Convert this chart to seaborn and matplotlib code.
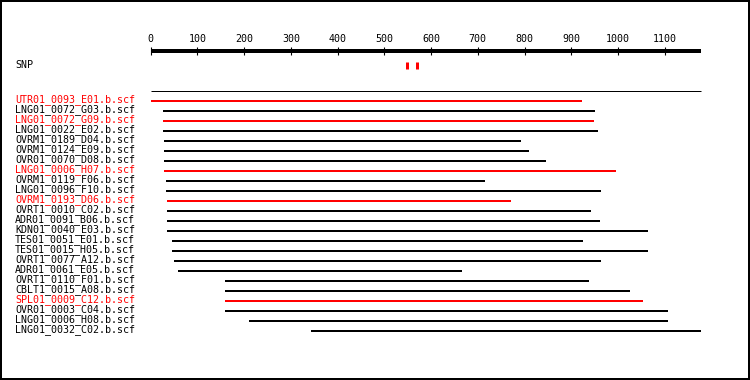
import matplotlib
matplotlib.use("Agg")
import matplotlib.pyplot as plt
import seaborn as sns
import pandas as pd
import numpy as np

# ---- data ----
reads = ["UTR01_0093_E01.b.scf", "LNG01_0072_G03.b.scf", "LNG01_0072_G09.b.scf",
         "LNG01_0022_E02.b.scf", "OVRM1_0189_D04.b.scf", "OVRM1_0124_E09.b.scf",
         "OVR01_0070_D08.b.scf", "LNG01_0006_H07.b.scf", "OVRM1_0119_F06.b.scf",
         "LNG01_0096_F10.b.scf", "OVRM1_0193_D06.b.scf", "OVRT1_0010_C02.b.scf",
         "ADR01_0091_B06.b.scf", "KDN01_0040_E03.b.scf", "TES01_0051_E01.b.scf",
         "TES01_0015_H05.b.scf", "OVRT1_0077_A12.b.scf", "ADR01_0061_E05.b.scf",
         "OVRT1_0110_F01.b.scf", "CBLT1_0015_A08.b.scf", "SPL01_0009_C12.b.scf",
         "OVR01_0003_C04.b.scf", "LNG01_0006_H08.b.scf", "LNG01_0032_C02.b.scf"]
starts = [0, 26, 26, 26, 28, 28, 28, 28, 32, 32, 35, 35,
          35, 35, 46, 46, 50, 58, 159, 159, 159, 159, 210, 343]
ends = [924, 951, 949, 957, 792, 810, 846, 996, 716, 964, 770, 942,
        962, 1064, 925, 1064, 964, 666, 938, 1026, 1053, 1107, 1107, 1177]
highlighted = [True, False, True, False, False, False, False, True, False, False, True, False,
               False, False, False, False, False, False, False, False, True, False, False, False]
contig_length = 1177
snp_positions = [548, 570]
tick_values = list(range(0, 1101, 100))

# ---- layout helpers (pixel geometry) ----
W, H = 750, 380
x0_px = 150.7
scale = 0.4673  # px per base
def px2x(px):
    return (px - x0_px) / scale

sns.set_theme(style="white")
plt.rcParams['font.family'] = ['DejaVu Sans Mono', 'DejaVu Sans']
fig = plt.figure(figsize=(W / 100, H / 100), dpi=100)
ax = fig.add_axes([0, 0, 1, 1])
ax.set_xlim(px2x(0), px2x(W))
ax.set_ylim(H, 0)
ax.set_xticks([])
ax.set_yticks([])
for s in ax.spines.values():
    s.set_visible(True)
    s.set_color("black")
    s.set_linewidth(2.88)

RED, BLACK = "#ff0000", "#000000"
row_y0, row_step = 101.0, 10.0

rows = []
for i, (r, s, e, h) in enumerate(zip(reads, starts, ends, highlighted)):
    y = row_y0 + row_step * i
    c = "red" if h else "black"
    rows.append({"read": r, "x": s, "y": y, "color": c})
    rows.append({"read": r, "x": e, "y": y, "color": c})
df = pd.DataFrame(rows)

sns.lineplot(data=df, x="x", y="y", units="read", estimator=None, hue="color",
             palette={"red": RED, "black": BLACK}, linewidth=1.44, legend=False,
             sort=False, ax=ax, solid_capstyle="butt")
ax.set_xlabel("")
ax.set_ylabel("")

# contig line
ax.hlines(90.5, 0, contig_length, color=BLACK, linewidth=0.72)

# scale bar
ax.hlines(51.0, 0, contig_length, color=BLACK, linewidth=2.88)
ax.vlines(tick_values, 47, 55, color=BLACK, linewidth=0.8)
for t in tick_values:
    ax.text(t, 42.3, str(t), ha="center", va="baseline", fontsize=7.2, color=BLACK)

# SNP
ax.text(px2x(15), 68.3, "SNP", ha="left", va="baseline", fontsize=7.2, color=BLACK)
ax.vlines(snp_positions, 62, 68.5, color=RED, linewidth=2.16)

# read labels
for i, (r, h) in enumerate(zip(reads, highlighted)):
    y = row_y0 + row_step * i
    ax.text(px2x(15), y + 1.0, r, ha="left", va="baseline", fontsize=7.2,
            color=RED if h else BLACK)

fig.savefig("out.png", dpi=100, facecolor="white")
